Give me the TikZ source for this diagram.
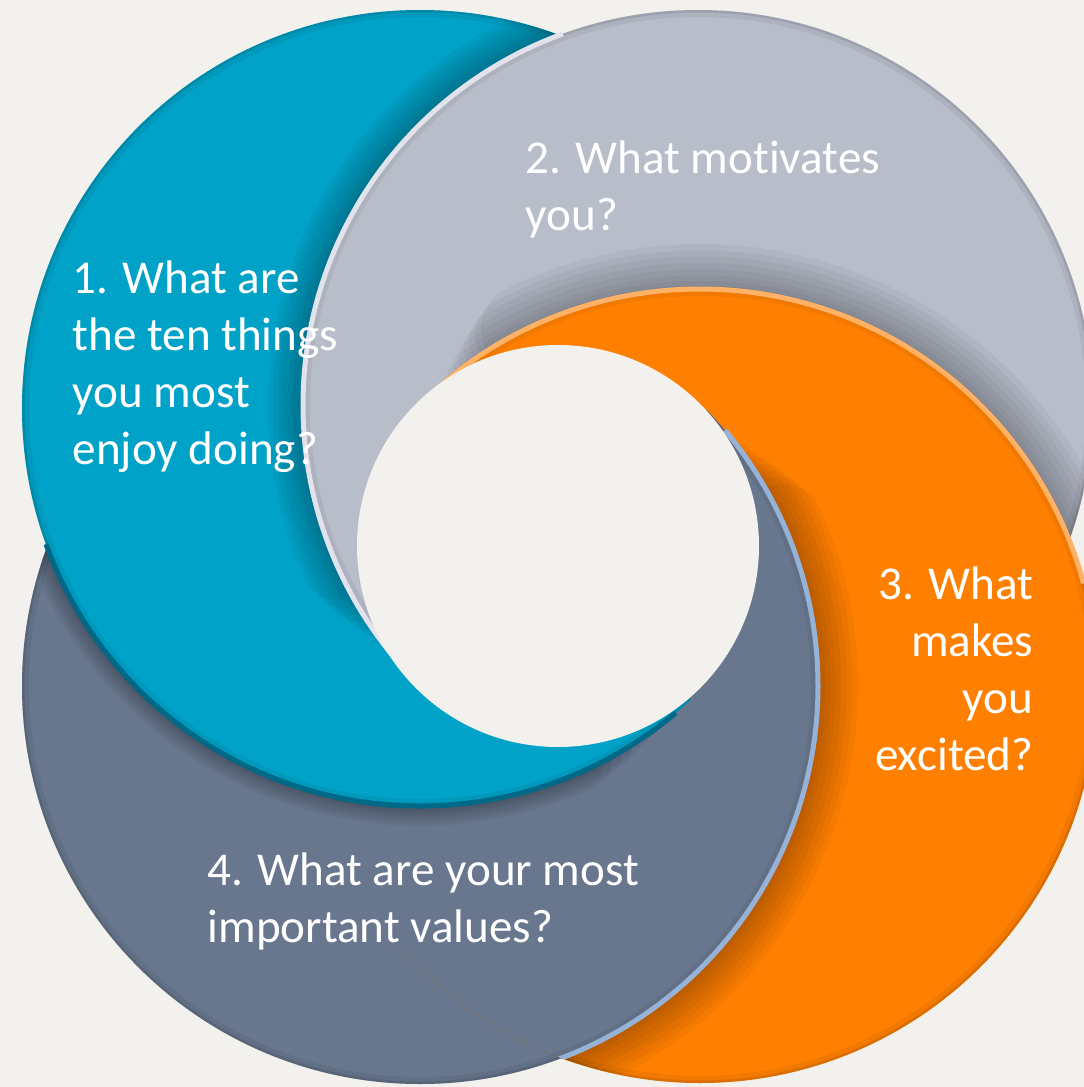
\documentclass[tikz,border=0pt]{standalone}
\usepackage{fontspec}
\setmainfont{Carlito}[Ligatures=NoCommon]
\usetikzlibrary{positioning, calc}
\definecolor{pagebg}{RGB}{242, 241, 237}
\definecolor{ringteal}{RGB}{0, 162, 199}
\definecolor{ringgray}{RGB}{184, 189, 202}
\definecolor{ringorange}{RGB}{255, 128, 0}
\definecolor{ringslate}{RGB}{104, 119, 142}
\definecolor{graylight}{RGB}{226, 226, 236}
\definecolor{orangelight}{RGB}{255, 178, 102}
\definecolor{slatelight}{RGB}{150, 178, 215}
\definecolor{tealdeep}{RGB}{0, 105, 135}

% disc with a darker inner edge
\newcommand{\ringdisk}[3]{%
  \fill[#3] (#1) circle (#2);
  \begin{scope}
    \clip (#1) circle (#2);
    \draw[#3!70!black, opacity=0.18, line width=0.14cm] (#1) circle (#2);
    \draw[#3!60!black, opacity=0.25, line width=0.05cm] (#1) circle (#2);
  \end{scope}
}
% soft dark band along an arc, thinning out at its start: center, radius, from, to, width
\newcommand{\castshadow}[5]{%
  \foreach \w/\d in {1/16, 0.86/14, 0.72/12, 0.58/10, 0.44/8, 0.3/6, 0.18/4, 0.08/2}
    \draw[black, opacity=0.04, line width=\w*#5, line cap=round] (#1) ++(#3+\d:#2) arc[start angle=#3+\d, end angle=#4, radius=#2];
}
% thin edge line along an arc
\newcommand{\leadrim}[5]{%
  \draw[#5, line width=0.05cm] (#1) ++(#3:#2) arc[start angle=#3, end angle=#4, radius=#2];
}

\begin{document}
\begin{tikzpicture}[x=0.01cm, y=-0.01cm,
    qtext/.style={text=white, font=\fontsize{13.4pt}{16.2pt}\selectfont, align=left, inner sep=0pt}
  ]
  \useasboundingbox (0,0) rectangle (1084,1087);
  \fill[pagebg] (0,0) rectangle (1084,1087);

  \coordinate (tealc) at (420,408);
  \coordinate (grayc) at (698,405);
  \coordinate (orangec) at (700,686);
  \coordinate (slatec) at (420,686);
  \coordinate (hub) at (558,546);

  % slate at the bottom of the stack
  \ringdisk{slatec}{398}{ringslate}
  % teal over slate
  \begin{scope}
    \clip (slatec) circle (398);
    \castshadow{tealc}{398}{50}{175}{0.4cm}
  \end{scope}
  \ringdisk{tealc}{398}{ringteal}
  \leadrim{tealc}{398}{50}{160}{tealdeep}
  % gray over teal
  \begin{scope}
    \clip (tealc) circle (398);
    \castshadow{grayc}{395}{140}{250}{0.7cm}
  \end{scope}
  \ringdisk{grayc}{395}{ringgray}
  \leadrim{grayc}{395}{140}{250}{graylight}
  % orange over gray
  \begin{scope}
    \clip (395,0) rectangle (1084,1087);
    \begin{scope}
      \clip (grayc) circle (395);
      \castshadow{orangec}{397}{228}{345}{0.9cm}
    \end{scope}
    \ringdisk{orangec}{397}{ringorange}
    \leadrim{orangec}{397}{228}{345}{orangelight}
  \end{scope}
  % slate again, over orange
  \begin{scope}
    \clip (395,410) rectangle (1084,1087);
    \clip (orangec) circle (397);
    \castshadow{slatec}{398}{-40}{72}{0.8cm}
    \ringdisk{slatec}{398}{ringslate}
    \leadrim{slatec}{398}{-40}{72}{slatelight}
    \begin{scope}
      \clip (slatec) circle (398);
      \castshadow{tealc}{398}{50}{175}{0.4cm}
    \end{scope}
  \end{scope}
  % teal again, closing the loop at the bottom
  \begin{scope}
    \clip (0,660) rectangle (690,1087);
    \ringdisk{tealc}{398}{ringteal}
    \leadrim{tealc}{398}{50}{160}{tealdeep}
    \begin{scope}
      \clip (tealc) circle (398);
      \castshadow{grayc}{395}{140}{250}{0.7cm}
    \end{scope}
  \end{scope}

  \fill[pagebg] (hub) circle (201);

  \node[qtext, anchor=north west] (q1) at (72,260) {1. What are\\the ten things\\you most\\enjoy doing?};
  \node[qtext, anchor=north west] (q2) at (525,140) {2. What motivates\\you?};
  \node[qtext, anchor=north east, align=right] (q3) at (1034,566) {3. What\\makes\\you\\excited?};
  \node[qtext, anchor=north west] (q4) at (207,852) {4. What are your most\\important values?};
\end{tikzpicture}
\end{document}
